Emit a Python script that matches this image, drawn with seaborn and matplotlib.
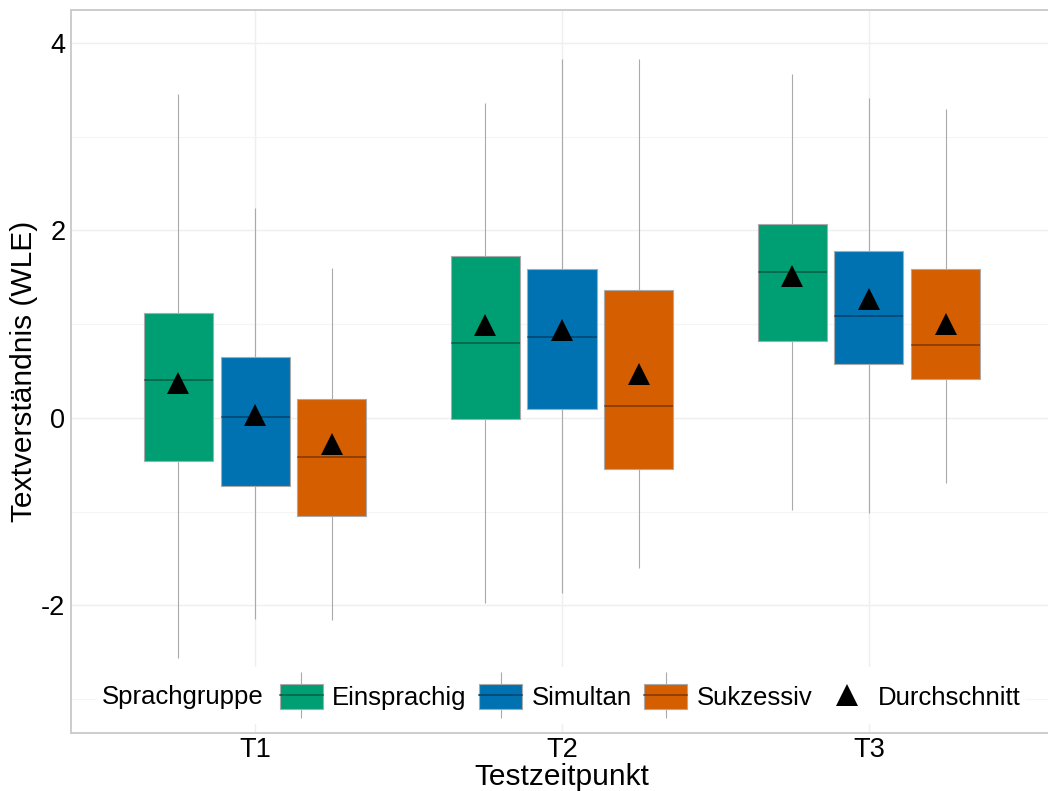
import numpy as np
import pandas as pd
import matplotlib
matplotlib.use("Agg")
import matplotlib.pyplot as plt
import seaborn as sns
from matplotlib.patches import Patch, Rectangle
from matplotlib.lines import Line2D
from matplotlib.legend_handler import HandlerTuple
from matplotlib.ticker import FixedLocator
from matplotlib.colors import to_rgb

# ---------------- data ----------------
times = ["T1", "T2", "T3"]
groups = ["Einsprachig", "Simultan", "Sukzessiv"]
colors = ["#009E73", "#0072B2", "#D55E00"]

# rows: T1, T2, T3 ; columns: Einsprachig, Simultan, Sukzessiv
whisker_low = [[-2.56, -2.14, -2.16],
               [-1.97, -1.87, -1.60],
               [-0.98, -1.01, -0.69]]
q1 = [[-0.46, -0.73, -1.05],
      [-0.01, 0.09, -0.55],
      [0.82, 0.57, 0.42]]
median = [[0.40, 0.01, -0.42],
          [0.80, 0.86, 0.13],
          [1.56, 1.09, 0.78]]
q3 = [[1.12, 0.65, 0.20],
      [1.73, 1.59, 1.36],
      [2.07, 1.78, 1.59]]
whisker_high = [[3.45, 2.24, 1.60],
                [3.36, 3.83, 3.83],
                [3.67, 3.41, 3.29]]
means = [[0.37, 0.03, -0.28],
         [0.99, 0.94, 0.47],
         [1.51, 1.27, 1.00]]

y_ticks = [-2, 0, 2, 4]
y_minor = [-3, -1, 1, 3]

# five-number summaries as long-format data
rows = []
mean_rows = []
for i, t in enumerate(times):
    for j, g in enumerate(groups):
        for v in (whisker_low[i][j], q1[i][j], median[i][j], q3[i][j], whisker_high[i][j]):
            rows.append({"time": t, "group": g, "value": v})
        mean_rows.append({"time": t, "group": g, "mean": means[i][j]})
df = pd.DataFrame(rows)
df_mean = pd.DataFrame(mean_rows)

# ---------------- style ----------------
sns.set_theme(style="white")
plt.rcParams["font.family"] = ["Liberation Sans", "DejaVu Sans"]
plt.rcParams["axes.unicode_minus"] = False

TICK_FS = 19.5
TITLE_FS = 21.5
LEG_FS = 18.5

W, H = 1048, 791
fig = plt.figure(figsize=(W / 100, H / 100), dpi=100)
ax = fig.add_axes([71 / W, 1 - 733 / H, 982 / W, 723 / H])

edge = "#aaaaaa"
sns.boxplot(data=df, x="time", y="value", hue="group", order=times, hue_order=groups,
            palette=colors, saturation=1, width=0.75, gap=0.1, whis=(0, 100),
            linecolor=edge, linewidth=0.8, showcaps=False, showfliers=False,
            medianprops=dict(color=(0, 0, 0, 0.35), linewidth=1.3),
            legend=False, ax=ax)

sns.pointplot(data=df_mean, x="time", y="mean", hue="group", order=times, hue_order=groups,
              palette=["black"] * 3, markers="^", linestyle="none", dodge=0.5,
              errorbar=None, markersize=16, markeredgewidth=0, legend=False, ax=ax)

ax.set_xlim(-0.6, 2.6)
ax.set_ylim(-3.36, 4.35)
ax.set_yticks(y_ticks)
ax.set_yticklabels([str(v) for v in y_ticks])
ax.yaxis.set_minor_locator(FixedLocator(y_minor))

ax.set_axisbelow(True)
ax.grid(which="major", axis="both", color="#efefef", linewidth=1.0)
ax.grid(which="minor", axis="y", color="#f5f5f5", linewidth=0.8)

for s in ["left", "top", "bottom"]:
    ax.spines[s].set_color("#cccccc")
    ax.spines[s].set_linewidth(1.4)
ax.spines["right"].set_visible(False)

ax.tick_params(axis="both", which="major", length=3, width=0.8, color="#cccccc",
               pad=1, labelsize=TICK_FS, labelcolor="black")
ax.tick_params(axis="x", which="major", pad=0)
ax.tick_params(axis="y", which="minor", length=0)

ax.set_xlabel("Testzeitpunkt", fontsize=TITLE_FS, color="black", labelpad=0)
ax.set_ylabel("Textverständnis (WLE)", fontsize=TITLE_FS, color="black", labelpad=2)

# ---------------- legend ----------------
bg = Rectangle((97 / W, 1 - 724 / H), (1025 - 97) / W, (724 - 667) / H,
               transform=fig.transFigure, facecolor="white", edgecolor="none", zorder=2)
fig.add_artist(bg)

handles = []
for c in colors:
    med_c = tuple(np.array(to_rgb(c)) * 0.65)
    handles.append((Line2D([], [], ls="none", marker="|", ms=33, mew=0.8, color=edge),
                    Patch(facecolor=c, edgecolor=edge, linewidth=0.8),
                    Line2D([], [], color=med_c, lw=1.3)))
handles.append(Line2D([], [], ls="none", marker="^", ms=16, mew=0, color="black"))
labels = groups + ["Durchschnitt"]

leg = fig.legend(handles, labels, handler_map={tuple: HandlerTuple(ndivide=1, pad=0)},
                 ncol=4, loc="center", bbox_to_anchor=(650 / W, 1 - 697 / H),
                 bbox_transform=fig.transFigure, frameon=False, fontsize=LEG_FS,
                 handlelength=1.67, handleheight=1.13, handletextpad=0.36,
                 columnspacing=0.5, borderpad=0.2)
leg.set_zorder(3)
for t in leg.get_texts():
    t.set_color("black")

fig.text(102 / W, 1 - 697 / H, "Sprachgruppe", ha="left", va="center",
         fontsize=LEG_FS, color="black", zorder=4)

fig.savefig("out.png", dpi=100)
